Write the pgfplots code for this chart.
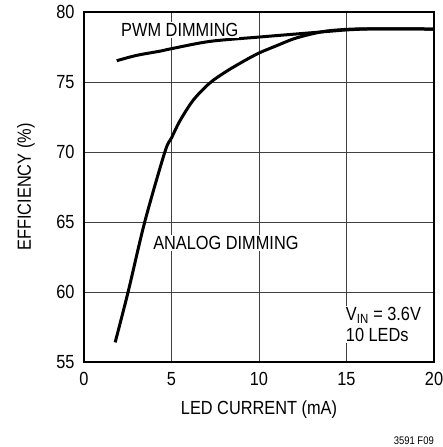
\documentclass[border=0pt]{standalone}
\usepackage{fontspec}
\setmainfont{Liberation Sans}
\usepackage{graphicx}
\usepackage{pgfplots}
\pgfplotsset{compat=1.18}
\newcommand{\nar}[1]{\scalebox{0.86}[1]{#1}}
\begin{document}
\fontsize{19}{22}\selectfont
\begin{tikzpicture}
\path[use as bounding box] (-84pt,-85pt) rectangle (359pt,362pt);
\begin{axis}[
  at={(0pt,0pt)}, anchor=south west,
  scale only axis, width=350pt, height=350pt,
  xmin=0, xmax=20, ymin=55, ymax=80,
  xtick={0,5,...,20}, ytick={55,60,...,80},
  grid=major,
  major grid style={black!75, line width=0.8pt},
  axis line style={line width=1.3pt},
  major tick length=0pt,
  tick label style={font=\fontsize{19}{22}\selectfont},
  xticklabel={\nar{\pgfmathprintnumber[assume math mode=true]{\tick}}},
  yticklabel={\nar{\pgfmathprintnumber[assume math mode=true]{\tick}}},
  xticklabel style={yshift=-4pt},
  yticklabel style={xshift=-3pt},
  clip=false,
]
\addplot[black, line width=3pt, smooth] coordinates {
(1.87,76.52) (3,76.9) (4.33,77.2) (5,77.38) (7.19,77.9) (10,78.21) (12.33,78.45)
(14,78.62) (15,78.72) (16,78.78) (17,78.8) (18,78.8) (19,78.79) (20,78.78)};
\addplot[black, line width=3pt, smooth] coordinates {
(1.78,56.4) (2.52,60) (3.47,65) (4.62,70) (5,71.0) (5.47,72.2) (6.24,73.7)
(7.19,74.93) (8.14,75.76) (9.1,76.47) (10,77.07) (11,77.59) (11.95,78.07)
(12.9,78.4) (13.86,78.64) (15,78.76) (16,78.8) (17,78.8) (18,78.8) (19,78.79) (20,78.78)};
\coordinate (pwm) at (axis cs:2.06,78.7);
\coordinate (ana) at (axis cs:3.89,63.5);
\coordinate (vin) at (axis cs:14.9,59.0);
\coordinate (fig) at (rel axis cs:1,0);
\coordinate (yl) at (rel axis cs:0,0.5);
\coordinate (xl) at (rel axis cs:0.5,0);
\end{axis}
\node[rotate=90, anchor=center, inner sep=0pt] at ([xshift=-58pt]yl) {\nar{EFFICIENCY (\%)}};
\node[anchor=center, inner sep=0pt] at ([yshift=-48pt]xl) {\nar{LED CURRENT (mA)}};
\node[anchor=west, fill=white, inner sep=1pt] at (pwm) {\nar{PWM DIMMING}};
\node[anchor=west, fill=white, inner sep=1pt] at (ana) {\nar{ANALOG DIMMING}};
\node[anchor=north west, fill=white, inner sep=1pt, align=left, font=\fontsize{19}{21}\selectfont] at (vin) {\nar{V\textsubscript{IN} = 3.6V}\\\nar{10 LEDs}};
\node[anchor=east, inner sep=0pt, font=\fontsize{11}{13}\selectfont] at ([yshift=-79pt]fig) {\nar{3591 F09}};
\end{tikzpicture}
\end{document}
